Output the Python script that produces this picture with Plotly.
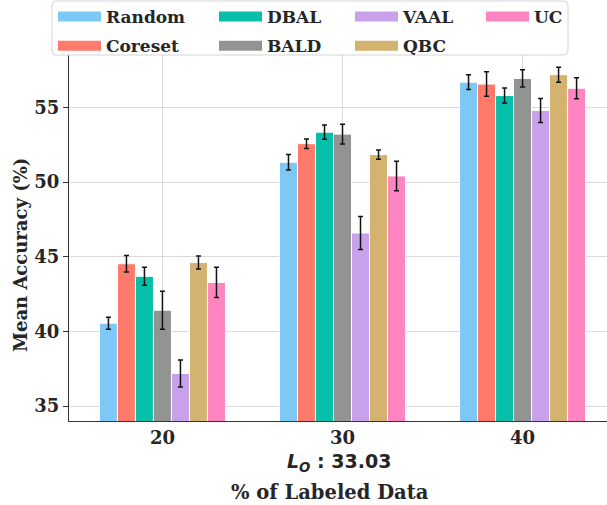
import plotly.graph_objects as go

# ---------------- data ----------------
methods = ["Random", "Coreset", "DBAL", "BALD", "VAAL", "QBC", "UC"]
labeled_pct = [20, 30, 40]
tick_labels = ["20", "30", "40"]
lo_value = 33.03

random_mean = [40.55, 51.32, 56.69]
coreset_mean = [44.53, 52.57, 56.56]
dbal_mean = [43.69, 53.34, 55.79]
bald_mean = [41.42, 53.21, 56.94]
vaal_mean = [37.18, 46.59, 54.79]
qbc_mean = [44.61, 51.84, 57.19]
uc_mean = [43.28, 50.41, 56.28]

random_std = [0.40, 0.52, 0.49]
coreset_std = [0.55, 0.32, 0.82]
dbal_std = [0.60, 0.48, 0.50]
bald_std = [1.27, 0.66, 0.58]
vaal_std = [0.91, 1.10, 0.81]
qbc_std = [0.43, 0.31, 0.50]
uc_std = [1.01, 0.99, 0.70]

means = [random_mean, coreset_mean, dbal_mean, bald_mean, vaal_mean, qbc_mean, uc_mean]
stds = [random_std, coreset_std, dbal_std, bald_std, vaal_std, qbc_std, uc_std]
colors = ["#7ec8f5", "#ff7a6b", "#05bfa8", "#929492", "#c9a1eb", "#d3b36f", "#ff85c0"]

# ---------------- layout geometry ----------------
W, H = 607, 505
ML, MR, MT, MB = 69, 0, 20, 84
PW = W - ML - MR
PH = H - MT - MB

def px2x(px):
    return (px - ML) / PW

def py2y(py):
    return 1 - (py - MT) / PH

SERIF = "DejaVu Serif"
TXT = "#262626"

fig = go.Figure()

legend_names = ["legend", "legend2", "legend3", "legend4"]
for i, m in enumerate(methods):
    fig.add_trace(go.Bar(
        x=labeled_pct, y=means[i], name=m, legendgroup=m, showlegend=False,
        marker=dict(color=colors[i], line=dict(color="white", width=1)),
        error_y=dict(type="data", array=stds[i], color="#111111", thickness=1.5, width=2.5),
    ))
    # legend swatch (legend-only entry linked to the bar trace)
    fig.add_trace(go.Scatter(
        x=[None], y=[None], mode="lines", name=m, legendgroup=m,
        line=dict(color=colors[i], width=11), legend=legend_names[i // 2],
        hoverinfo="skip",
    ))

legend_font = dict(family=SERIF, size=17, color=TXT, weight="bold")
col_px = [58, 219, 355, 486]
legend_cfg = {}
for k, name in enumerate(legend_names):
    legend_cfg[name] = dict(
        x=px2x(col_px[k] - 5), y=py2y(-1), xanchor="left", yanchor="top",
        orientation="v", bgcolor="rgba(0,0,0,0)", borderwidth=0,
        font=legend_font, itemwidth=43, tracegroupgap=4,
    )

# legend frame (white, rounded, light gray border)
x0, x1 = px2x(52), px2x(568)
y0, y1 = py2y(55), py2y(1)
rx, ry = 4 / PW, 4 / PH
path = (f"M{x0+rx},{y1} L{x1-rx},{y1} Q{x1},{y1} {x1},{y1-ry} "
        f"L{x1},{y0+ry} Q{x1},{y0} {x1-rx},{y0} L{x0+rx},{y0} "
        f"Q{x0},{y0} {x0},{y0+ry} L{x0},{y1-ry} Q{x0},{y1} {x0+rx},{y1} Z")

fig.update_layout(
    width=W, height=H,
    margin=dict(l=ML, r=MR, t=MT, b=MB, pad=0, autoexpand=False),
    paper_bgcolor="white", plot_bgcolor="white",
    barmode="group", bargap=0.3, bargroupgap=0,
    showlegend=True,
    shapes=[dict(type="path", path=path, xref="paper", yref="paper",
                 fillcolor="white", line=dict(color="#d4d4d4", width=1), layer="above")],
    xaxis=dict(
        range=[14.81, 44.69], tickvals=labeled_pct, ticktext=tick_labels,
        showgrid=True, gridcolor="#d9d9d9", gridwidth=1.2,
        showline=True, linecolor="#333333", linewidth=1.3,
        ticks="", zeroline=False,
        tickfont=dict(family=SERIF, size=18, color=TXT, weight="bold"),
    ),
    yaxis=dict(
        range=[34.0, 60.85], tickvals=[35, 40, 45, 50, 55],
        showgrid=True, gridcolor="#d9d9d9", gridwidth=1.2,
        showline=True, linecolor="#333333", linewidth=1.3,
        ticks="outside", ticklen=5, tickcolor="#333333", tickwidth=1.2,
        zeroline=False,
        tickfont=dict(family=SERIF, size=18, color=TXT, weight="bold"),
    ),
    annotations=[
        dict(text=f"<b><i>L</i><sub><i>O</i></sub> : {lo_value:.2f}</b>",
             x=30, xref="x", y=py2y(462), yref="paper", xanchor="center", yanchor="middle",
             showarrow=False, xshift=-4,
             font=dict(family="DejaVu Sans", size=19, color=TXT)),
        dict(text="<b>% of Labeled Data</b>", x=px2x(330), y=py2y(493),
             xref="paper", yref="paper", xanchor="center", yanchor="middle",
             showarrow=False, font=dict(family=SERIF, size=19.5, color=TXT)),
        dict(text="<b>Mean Accuracy (%)</b>", x=px2x(20), y=py2y(255),
             xref="paper", yref="paper", xanchor="center", yanchor="middle",
             textangle=-90, showarrow=False, font=dict(family=SERIF, size=18, color=TXT)),
    ],
    **legend_cfg,
)

fig.write_html("out.html", config={"displayModeBar": False},
               post_script="document.body.style.margin='0px';")
